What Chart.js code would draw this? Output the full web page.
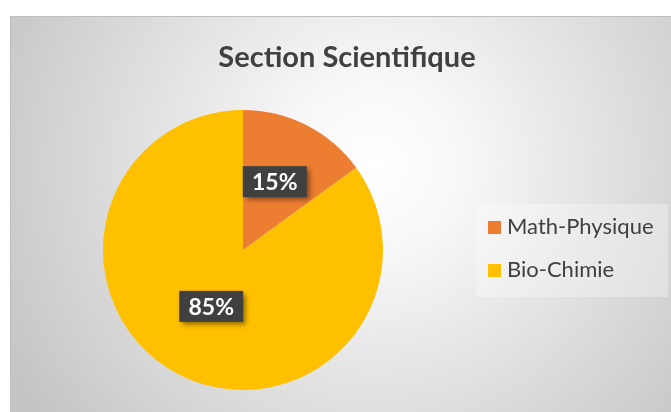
<!DOCTYPE html>
<html>
<head>
<meta charset="utf-8">
<script src="https://cdn.jsdelivr.net/npm/chart.js@4.4.0/dist/chart.umd.min.js"></script>
<style>
  html, body { margin: 0; padding: 0; background: #fff; }
  canvas { display: block; }
</style>
</head>
<body>
<canvas id="pieChart" width="671" height="412"></canvas>
<script>
// Chart data
const chartTitle = 'Section Scientifique';
const categories = ['Math-Physique', 'Bio-Chimie'];
const percentages = [15, 85];
const sliceColors = ['#ED7D31', '#FFC000'];

// Background: grey radial gradient with a thin border
const backgroundPlugin = {
    id: 'bgPanel',
    beforeDraw(chart) {
        const ctx = chart.ctx;
        ctx.save();
        ctx.fillStyle = '#ffffff';
        ctx.fillRect(0, 0, chart.width, chart.height);
        const g = ctx.createRadialGradient(375, 165, 0, 375, 165, 420);
        g.addColorStop(0, '#ffffff');
        g.addColorStop(0.2, '#f8f8f8');
        g.addColorStop(1, '#c4c4c4');
        ctx.fillStyle = g;
        ctx.fillRect(10, 16, chart.width - 10, chart.height - 16);
        ctx.strokeStyle = '#bfbfbf';
        ctx.lineWidth = 1;
        ctx.beginPath();
        ctx.moveTo(10.5, chart.height);
        ctx.lineTo(10.5, 16.5);
        ctx.lineTo(chart.width, 16.5);
        ctx.stroke();
        ctx.restore();
    }
};

// Title and legend drawn at fixed spots
const textPlugin = {
    id: 'titleLegend',
    afterDraw(chart) {
        const ctx = chart.ctx;
        ctx.save();
        ctx.fillStyle = '#404040';
        ctx.font = 'bold 29px Lato';
        ctx.textAlign = 'center';
        ctx.textBaseline = 'alphabetic';
        ctx.fillText(chartTitle, 347, 67);

        ctx.fillStyle = 'rgba(255,255,255,0.3)';
        ctx.fillRect(476, 204, 192, 93);

        ctx.font = '22px Lato';
        ctx.textAlign = 'left';
        categories.forEach((label, i) => {
            const y = 234 + i * 43;
            ctx.fillStyle = sliceColors[i];
            ctx.fillRect(488, y - 13, 13, 13);
            ctx.fillStyle = '#404040';
            ctx.fillText(label, 507, y);
        });
        ctx.restore();
    }
};

// Dark boxed percentage labels on each slice
const boxLabelPlugin = {
    id: 'boxLabels',
    afterDatasetsDraw(chart) {
        const ctx = chart.ctx;
        const meta = chart.getDatasetMeta(0);
        ctx.save();
        meta.data.forEach((arc, i) => {
            const props = arc.getProps(['x', 'y', 'startAngle', 'endAngle', 'outerRadius']);
            const mid = (props.startAngle + props.endAngle) / 2;
            const r = props.outerRadius * 0.5;
            const cx = props.x + Math.cos(mid) * r;
            const cy = props.y + Math.sin(mid) * r - 6;
            const text = percentages[i] + '%';
            const w = 64, h = 31;
            ctx.shadowColor = 'rgba(0,0,0,0.45)';
            ctx.shadowBlur = 5;
            ctx.shadowOffsetX = 3;
            ctx.shadowOffsetY = 3;
            ctx.fillStyle = '#404040';
            ctx.fillRect(cx - w / 2, cy - h / 2, w, h);
            ctx.shadowColor = 'transparent';
            ctx.fillStyle = '#ffffff';
            ctx.font = 'bold 23px Lato';
            ctx.textAlign = 'center';
            ctx.textBaseline = 'middle';
            ctx.fillText(text, cx, cy + 1);
        });
        ctx.restore();
    }
};

const ctx = document.getElementById('pieChart').getContext('2d');
const pieChart = new Chart(ctx, {
    type: 'pie',
    data: {
        labels: categories,
        datasets: [{
            data: percentages,
            backgroundColor: sliceColors,
            borderWidth: 0
        }]
    },
    options: {
        responsive: false,
        animation: false,
        devicePixelRatio: 1,
        layout: {
            padding: { left: 103, right: 288, top: 110, bottom: 22 }
        },
        plugins: {
            legend: { display: false },
            title: { display: false },
            tooltip: { enabled: false }
        }
    },
    plugins: [backgroundPlugin, textPlugin, boxLabelPlugin]
});
</script>
</body>
</html>
